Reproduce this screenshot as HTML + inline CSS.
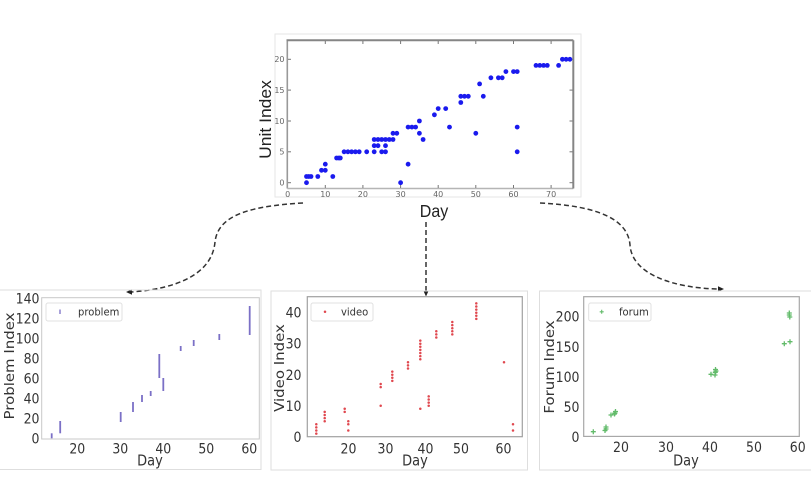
<!DOCTYPE html>
<html><head><meta charset="utf-8"><style>
html,body{margin:0;padding:0;background:#fff;}
svg{display:block;}
text{font-family:"DejaVu Sans","Liberation Sans",sans-serif;}
</style></head><body>
<svg width="811" height="502" viewBox="0 0 811 502" xmlns="http://www.w3.org/2000/svg">
<rect width="811" height="502" fill="#fff"/>

<!-- ============ MAIN CHART ============ -->
<rect x="275" y="34" width="306" height="163" fill="#fff" stroke="#e6e6e6" stroke-width="1"/>
<line x1="287.3" y1="40.3" x2="287.3" y2="188.5" stroke="#999" stroke-width="1.6"/>
<line x1="287.3" y1="188.5" x2="573.3" y2="188.5" stroke="#b5b5b5" stroke-width="1.4"/>
<line x1="286.5" y1="40.3" x2="573.3" y2="40.3" stroke="#858585" stroke-width="2"/>
<line x1="573.3" y1="40.3" x2="573.3" y2="188.5" stroke="#858585" stroke-width="2"/>
<g stroke="#777" stroke-width="1">
<line x1="325.3" y1="41" x2="325.3" y2="44"/><line x1="362.9" y1="41" x2="362.9" y2="44"/><line x1="400.6" y1="41" x2="400.6" y2="44"/><line x1="438.2" y1="41" x2="438.2" y2="44"/><line x1="475.8" y1="41" x2="475.8" y2="44"/><line x1="513.5" y1="41" x2="513.5" y2="44"/><line x1="551.1" y1="41" x2="551.1" y2="44"/>
<line x1="325.3" y1="185" x2="325.3" y2="188"/><line x1="362.9" y1="185" x2="362.9" y2="188"/><line x1="400.6" y1="185" x2="400.6" y2="188"/><line x1="438.2" y1="185" x2="438.2" y2="188"/><line x1="475.8" y1="185" x2="475.8" y2="188"/><line x1="513.5" y1="185" x2="513.5" y2="188"/><line x1="551.1" y1="185" x2="551.1" y2="188"/>
<line x1="288" y1="182.7" x2="291" y2="182.7"/><line x1="288" y1="151.8" x2="291" y2="151.8"/><line x1="288" y1="121" x2="291" y2="121"/><line x1="288" y1="90.1" x2="291" y2="90.1"/><line x1="288" y1="59.3" x2="291" y2="59.3"/>
<line x1="569.5" y1="182.7" x2="572.5" y2="182.7"/><line x1="569.5" y1="151.8" x2="572.5" y2="151.8"/><line x1="569.5" y1="121" x2="572.5" y2="121"/><line x1="569.5" y1="90.1" x2="572.5" y2="90.1"/><line x1="569.5" y1="59.3" x2="572.5" y2="59.3"/>
</g>
<g font-size="8" fill="#666" text-anchor="middle" style="font-family:'Liberation Serif',serif">
<text x="287.7" y="197">0</text><text x="325.3" y="197">10</text><text x="362.9" y="197">20</text><text x="400.6" y="197">30</text><text x="438.2" y="197">40</text><text x="475.8" y="197">50</text><text x="513.5" y="197">60</text><text x="551.1" y="197">70</text>
</g>
<g font-size="8" fill="#666" text-anchor="end" style="font-family:'Liberation Serif',serif">
<text x="284.5" y="185.5">0</text><text x="284.5" y="154.6">5</text><text x="284.5" y="123.8">10</text><text x="284.5" y="92.9">15</text><text x="284.5" y="62.1">20</text>
</g>
<text transform="translate(271,119.5) scale(1,1.06) rotate(-90)" text-anchor="middle" font-size="16.5" fill="#222" style="font-family:'Liberation Sans',sans-serif">Unit Index</text>
<text transform="translate(434,217) scale(1,1.08)" text-anchor="middle" font-size="16" fill="#222" style="font-family:'Liberation Sans',sans-serif">Day</text>

<g fill="#1a1aee">
<circle cx="306.5" cy="182.7" r="2.4"/><circle cx="400.6" cy="182.7" r="2.4"/>
<circle cx="306.5" cy="176.5" r="2.4"/><circle cx="308.7" cy="176.5" r="2.4"/><circle cx="311.0" cy="176.5" r="2.4"/><circle cx="317.8" cy="176.5" r="2.4"/><circle cx="332.8" cy="176.5" r="2.4"/>
<circle cx="321.5" cy="170.3" r="2.4"/><circle cx="325.3" cy="170.3" r="2.4"/>
<circle cx="325.3" cy="164.2" r="2.4"/><circle cx="408.1" cy="164.2" r="2.4"/>
<circle cx="336.6" cy="158.0" r="2.4"/><circle cx="338.8" cy="158.0" r="2.4"/><circle cx="340.3" cy="158.0" r="2.4"/>
<circle cx="344.1" cy="151.8" r="2.4"/><circle cx="347.9" cy="151.8" r="2.4"/><circle cx="351.6" cy="151.8" r="2.4"/><circle cx="355.4" cy="151.8" r="2.4"/><circle cx="359.2" cy="151.8" r="2.4"/><circle cx="366.7" cy="151.8" r="2.4"/><circle cx="374.2" cy="151.8" r="2.4"/><circle cx="381.7" cy="151.8" r="2.4"/><circle cx="385.5" cy="151.8" r="2.4"/><circle cx="517.2" cy="151.8" r="2.4"/>
<circle cx="374.2" cy="145.7" r="2.4"/><circle cx="378.0" cy="145.7" r="2.4"/><circle cx="385.5" cy="145.7" r="2.4"/>
<circle cx="374.2" cy="139.5" r="2.4"/><circle cx="378.0" cy="139.5" r="2.4"/><circle cx="381.7" cy="139.5" r="2.4"/><circle cx="385.5" cy="139.5" r="2.4"/><circle cx="389.3" cy="139.5" r="2.4"/><circle cx="393.0" cy="139.5" r="2.4"/><circle cx="423.1" cy="139.5" r="2.4"/>
<circle cx="393.0" cy="133.3" r="2.4"/><circle cx="396.8" cy="133.3" r="2.4"/><circle cx="419.4" cy="133.3" r="2.4"/><circle cx="475.8" cy="133.3" r="2.4"/>
<circle cx="408.1" cy="127.1" r="2.4"/><circle cx="411.9" cy="127.1" r="2.4"/><circle cx="415.6" cy="127.1" r="2.4"/><circle cx="449.5" cy="127.1" r="2.4"/><circle cx="517.2" cy="127.1" r="2.4"/>
<circle cx="419.4" cy="121.0" r="2.4"/>
<circle cx="434.4" cy="114.8" r="2.4"/>
<circle cx="438.2" cy="108.6" r="2.4"/><circle cx="445.7" cy="108.6" r="2.4"/>
<circle cx="460.8" cy="102.5" r="2.4"/>
<circle cx="460.8" cy="96.3" r="2.4"/><circle cx="464.5" cy="96.3" r="2.4"/><circle cx="468.3" cy="96.3" r="2.4"/><circle cx="483.3" cy="96.3" r="2.4"/>
<circle cx="479.6" cy="83.9" r="2.4"/>
<circle cx="490.9" cy="77.8" r="2.4"/><circle cx="498.4" cy="77.8" r="2.4"/><circle cx="502.2" cy="77.8" r="2.4"/>
<circle cx="505.9" cy="71.6" r="2.4"/><circle cx="513.5" cy="71.6" r="2.4"/><circle cx="517.2" cy="71.6" r="2.4"/>
<circle cx="536.0" cy="65.4" r="2.4"/><circle cx="539.8" cy="65.4" r="2.4"/><circle cx="543.6" cy="65.4" r="2.4"/><circle cx="547.3" cy="65.4" r="2.4"/><circle cx="558.6" cy="65.4" r="2.4"/>
<circle cx="562.4" cy="59.3" r="2.4"/><circle cx="566.1" cy="59.3" r="2.4"/><circle cx="569.9" cy="59.3" r="2.4"/>
</g>

<!-- ============ ARROWS ============ -->
<g fill="none" stroke="#333" stroke-width="1.5" stroke-dasharray="5,3">
<path d="M303,203 C250,206 218,215 215,242 C212,275 175,289 131,292"/>
<path d="M426,222 L426,291"/>
<path d="M540,203 C600,206 628,220 630,245 C632,275 675,288 718,289"/>
</g>
<g fill="#222">
<polygon points="126,292 132,289.3 132,294.7"/>
<polygon points="426,296.5 423.3,290.5 428.7,290.5"/>
<polygon points="724,289 718,286.3 718,291.7"/>
</g>

<!-- ============ PANEL BOXES ============ -->
<g fill="none" stroke="#dedede" stroke-width="1">
<path d="M0,290 L261,290 L261,469.5 L0,469.5"/>
<rect x="271" y="291" width="256.5" height="179"/>
<path d="M811,291 L539.5,291 L539.5,470 L811,470"/>
</g>

<!-- ============ LEFT PANEL (problem) ============ -->
<rect x="41.7" y="297.7" width="217.6" height="141.3" fill="#fff" stroke="#c8c8c8" stroke-width="1"/>
<g stroke="#7b70c6" stroke-width="1.8" stroke-linecap="butt">
<line x1="51.7" y1="433.3" x2="51.7" y2="438.3"/>
<line x1="60.2" y1="421" x2="60.2" y2="433.3"/>
<line x1="120.7" y1="412" x2="120.7" y2="422"/>
<line x1="133" y1="402" x2="133" y2="412"/>
<line x1="142" y1="395" x2="142" y2="402"/>
<line x1="150.7" y1="391" x2="150.7" y2="396"/>
<line x1="159.3" y1="354" x2="159.3" y2="378"/>
<line x1="163.3" y1="378" x2="163.3" y2="391"/>
<line x1="180.7" y1="346" x2="180.7" y2="351"/>
<line x1="193.7" y1="340" x2="193.7" y2="346"/>
<line x1="219.3" y1="334" x2="219.3" y2="340"/>
<line x1="249.7" y1="306" x2="249.7" y2="335"/>
</g>
<g font-size="12.5" fill="#333" text-anchor="end">
<text transform="translate(39.5,443.4) scale(1,1.13)">0</text>
<text transform="translate(39.5,423.4) scale(1,1.13)">20</text>
<text transform="translate(39.5,403.4) scale(1,1.13)">40</text>
<text transform="translate(39.5,383.4) scale(1,1.13)">60</text>
<text transform="translate(39.5,363.4) scale(1,1.13)">80</text>
<text transform="translate(39.5,343.4) scale(1,1.13)">100</text>
<text transform="translate(39.5,323.4) scale(1,1.13)">120</text>
<text transform="translate(39.5,303.4) scale(1,1.13)">140</text>
</g>
<g font-size="12.5" fill="#333" text-anchor="middle">
<text transform="translate(77.3,453.5) scale(1,1.13)">20</text>
<text transform="translate(120.3,453.5) scale(1,1.13)">30</text>
<text transform="translate(163.3,453.5) scale(1,1.13)">40</text>
<text transform="translate(206.3,453.5) scale(1,1.13)">50</text>
<text transform="translate(249.3,453.5) scale(1,1.13)">60</text>
</g>
<text transform="translate(14,366) scale(1,1.15) rotate(-90)" text-anchor="middle" font-size="13" fill="#333">Problem Index</text>
<text transform="translate(150,465.5) scale(1,1.15)" text-anchor="middle" font-size="13" fill="#333">Day</text>
<rect x="46" y="303" width="76" height="18" rx="2" fill="#fff" stroke="#e0e0e0" stroke-width="1"/>
<line x1="60" y1="309.5" x2="60" y2="314" stroke="#7b70c6" stroke-width="1.3"/>
<text transform="translate(78,315.5) scale(1,1.08)" font-size="10" fill="#333">problem</text>

<!-- ============ MIDDLE PANEL (video) ============ -->
<rect x="307.3" y="296.7" width="215" height="140" fill="#fff" stroke="#a0a0a0" stroke-width="1.2"/>
<g fill="#e0484f">
<circle cx="316.3" cy="433.6" r="1.25"/><circle cx="316.3" cy="430.5" r="1.25"/><circle cx="316.3" cy="427.4" r="1.25"/><circle cx="316.3" cy="424.3" r="1.25"/>
<circle cx="324.7" cy="421.2" r="1.25"/><circle cx="324.7" cy="418.1" r="1.25"/><circle cx="324.7" cy="415.0" r="1.25"/><circle cx="324.7" cy="411.9" r="1.25"/>
<circle cx="344.7" cy="411.9" r="1.25"/><circle cx="344.7" cy="408.8" r="1.25"/>
<circle cx="348.3" cy="430.5" r="1.25"/><circle cx="348.3" cy="424.3" r="1.25"/><circle cx="348.3" cy="421.2" r="1.25"/>
<circle cx="380.7" cy="405.7" r="1.25"/><circle cx="380.7" cy="387.1" r="1.25"/><circle cx="380.7" cy="384.0" r="1.25"/>
<circle cx="392.3" cy="380.9" r="1.25"/><circle cx="392.3" cy="377.8" r="1.25"/><circle cx="392.3" cy="374.7" r="1.25"/><circle cx="392.3" cy="371.6" r="1.25"/>
<circle cx="408" cy="368.5" r="1.25"/><circle cx="408" cy="365.4" r="1.25"/><circle cx="408" cy="362.3" r="1.25"/>
<circle cx="420.3" cy="408.8" r="1.25"/><circle cx="420.3" cy="359.2" r="1.25"/><circle cx="420.3" cy="356.1" r="1.25"/><circle cx="420.3" cy="353.0" r="1.25"/><circle cx="420.3" cy="349.9" r="1.25"/><circle cx="420.3" cy="346.8" r="1.25"/><circle cx="420.3" cy="343.7" r="1.25"/><circle cx="420.3" cy="340.6" r="1.25"/>
<circle cx="428.7" cy="405.7" r="1.25"/><circle cx="428.7" cy="402.6" r="1.25"/><circle cx="428.7" cy="399.5" r="1.25"/><circle cx="428.7" cy="396.4" r="1.25"/>
<circle cx="436.3" cy="337.5" r="1.25"/><circle cx="436.3" cy="334.4" r="1.25"/><circle cx="436.3" cy="331.3" r="1.25"/>
<circle cx="452.3" cy="334.4" r="1.25"/><circle cx="452.3" cy="331.3" r="1.25"/><circle cx="452.3" cy="328.2" r="1.25"/><circle cx="452.3" cy="325.1" r="1.25"/><circle cx="452.3" cy="322.0" r="1.25"/>
<circle cx="476.3" cy="318.9" r="1.25"/><circle cx="476.3" cy="315.8" r="1.25"/><circle cx="476.3" cy="312.7" r="1.25"/><circle cx="476.3" cy="309.6" r="1.25"/><circle cx="476.3" cy="306.5" r="1.25"/><circle cx="476.3" cy="303.4" r="1.25"/>
<circle cx="504" cy="362.3" r="1.25"/>
<circle cx="513" cy="430.5" r="1.25"/><circle cx="513" cy="424.3" r="1.25"/>
</g>
<g font-size="12.5" fill="#333" text-anchor="end">
<text transform="translate(301.5,441.8) scale(1,1.13)">0</text>
<text transform="translate(301.5,410.8) scale(1,1.13)">10</text>
<text transform="translate(301.5,379.8) scale(1,1.13)">20</text>
<text transform="translate(301.5,348.7) scale(1,1.13)">30</text>
<text transform="translate(301.5,317.7) scale(1,1.13)">40</text>
</g>
<g font-size="12.5" fill="#333" text-anchor="middle">
<text transform="translate(348.5,453.5) scale(1,1.13)">20</text>
<text transform="translate(385.5,453.5) scale(1,1.13)">30</text>
<text transform="translate(425.5,453.5) scale(1,1.13)">40</text>
<text transform="translate(461,453.5) scale(1,1.13)">50</text>
<text transform="translate(503.5,453.5) scale(1,1.13)">60</text>
</g>
<text transform="translate(284,368) scale(1,1.15) rotate(-90)" text-anchor="middle" font-size="13" fill="#333">Video Index</text>
<text transform="translate(415,465.5) scale(1,1.15)" text-anchor="middle" font-size="13" fill="#333">Day</text>
<rect x="311" y="303" width="62" height="18" rx="2" fill="#fff" stroke="#e0e0e0" stroke-width="1"/>
<circle cx="325" cy="311.8" r="1.25" fill="#e0484f"/>
<text transform="translate(341,315.5) scale(1,1.08)" font-size="10" fill="#333">video</text>

<!-- ============ RIGHT PANEL (forum) ============ -->
<rect x="583.7" y="296.7" width="215.6" height="139.7" fill="#fff" stroke="#a8a8a8" stroke-width="1.2"/>
<g stroke="#62bb6a" stroke-width="1.3" fill="none">
<path d="M590.8,431.7h5M593.3,429.2v5"/>
<path d="M603.5,429h5M606,426.5v5"/><path d="M603.5,427h5M606,424.5v5"/><path d="M602.5,430.5h5M605,428v5"/>
<path d="M608.5,415h5M611,412.5v5"/>
<path d="M612.5,413h5M615,410.5v5"/><path d="M613,411.5h5M615.5,409v5"/><path d="M612,414h5M614.5,411.5v5"/>
<path d="M708.5,374.3h5M711,371.8v5"/>
<path d="M712.8,372.3h5M715.3,369.8v5"/><path d="M713,369.5h5M715.5,367v5"/><path d="M712.5,375h5M715,372.5v5"/><path d="M713.5,371h5M716,368.5v5"/>
<path d="M781.8,343.7h5M784.3,341.2v5"/>
<path d="M787.5,341.7h5M790,339.2v5"/>
<path d="M786.8,315h5M789.3,312.5v5"/><path d="M786.8,313h5M789.3,310.5v5"/><path d="M787.3,317h5M789.8,314.5v5"/>
</g>
<g font-size="12.5" fill="#333" text-anchor="end">
<text transform="translate(579.5,441.8) scale(1,1.13)">0</text>
<text transform="translate(579.5,411.8) scale(1,1.13)">50</text>
<text transform="translate(579.5,381.8) scale(1,1.13)">100</text>
<text transform="translate(579.5,351.8) scale(1,1.13)">150</text>
<text transform="translate(579.5,321.5) scale(1,1.13)">200</text>
</g>
<g font-size="12.5" fill="#333" text-anchor="middle">
<text transform="translate(621,452) scale(1,1.13)">20</text>
<text transform="translate(666,452) scale(1,1.13)">30</text>
<text transform="translate(710,452) scale(1,1.13)">40</text>
<text transform="translate(754,452) scale(1,1.13)">50</text>
<text transform="translate(797.7,452) scale(1,1.13)">60</text>
</g>
<text transform="translate(554,367) scale(1,1.15) rotate(-90)" text-anchor="middle" font-size="13" fill="#333">Forum Index</text>
<text transform="translate(686,465.5) scale(1,1.15)" text-anchor="middle" font-size="13" fill="#333">Day</text>
<rect x="588.7" y="303" width="62.3" height="18" rx="2" fill="#fff" stroke="#e0e0e0" stroke-width="1"/>
<path d="M599.7,311.8h4M601.7,309.8v4" stroke="#62bb6a" stroke-width="1.1" fill="none"/>
<text transform="translate(619,315.5) scale(1,1.08)" font-size="10" fill="#333">forum</text>
</svg>
</body></html>
